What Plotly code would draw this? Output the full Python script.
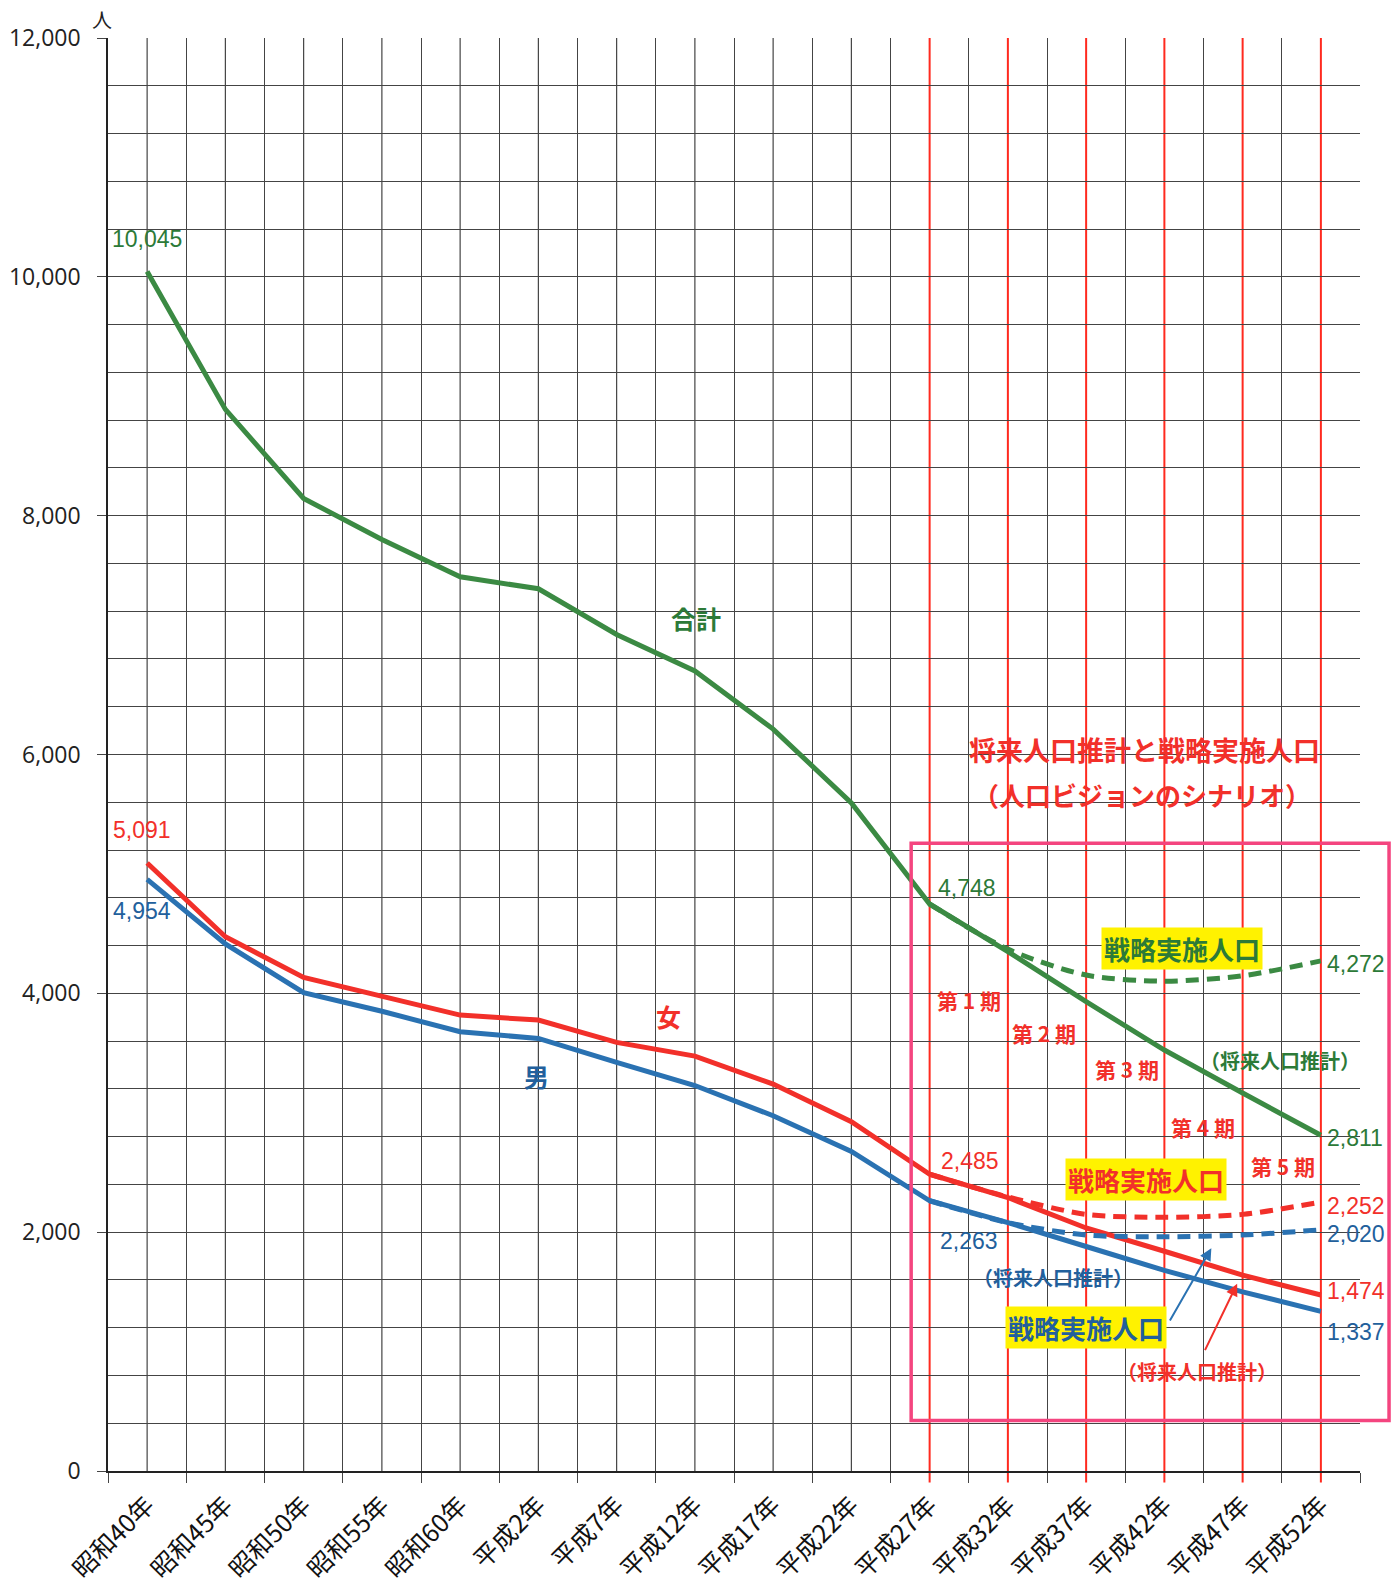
import plotly.graph_objects as go

# ---------------- data ----------------
categories = ["昭和40年", "昭和45年", "昭和50年", "昭和55年", "昭和60年", "平成2年", "平成7年",
              "平成12年", "平成17年", "平成22年", "平成27年", "平成32年", "平成37年", "平成42年",
              "平成47年", "平成52年"]
total = [10045, 8890, 8144, 7800, 7488, 7388, 7005, 6700, 6213, 5594, 4748, 4350, 3930, 3525, 3165, 2811]
female = [5091, 4474, 4133, 3980, 3818, 3776, 3589, 3474, 3240, 2925, 2485, 2290, 2035, 1840, 1640, 1474]
male = [4954, 4414, 4005, 3850, 3678, 3622, 3422, 3228, 2975, 2676, 2263, 2080, 1880, 1680, 1500, 1337]

strategy_categories = ["平成27年", "平成32年", "平成37年", "平成42年", "平成47年", "平成52年"]
total_strategy = [4748, 4370, 4153, 4102, 4147, 4272]
female_strategy = [2485, 2295, 2149, 2124, 2149, 2252]
male_strategy = [2263, 2080, 1976, 1962, 1976, 2020]

future_categories = ["平成27年", "平成32年", "平成37年", "平成42年", "平成47年", "平成52年"]
y_ticks = [0, 2000, 4000, 6000, 8000, 10000, 12000]

# ---------------- styles ----------------
GREEN = "#3b8a43"
GREEN_T = "#2c7a38"
RED = "#f2302a"
BLUE = "#2a72b2"
BLUE_T = "#22609c"
PINK = "#f4457f"
YELLOW = "#fff200"
GRID = "#444444"
CJK = "Noto Sans CJK JP"
NUM = "Liberation Sans Narrow, Liberation Sans, Arial"

fig = go.Figure()

for name, vals, col in [("合計", total, GREEN), ("女", female, RED), ("男", male, BLUE)]:
    fig.add_trace(go.Scatter(x=categories, y=vals, mode="lines", name=name,
                             line=dict(color=col, width=5)))

for name, vals, col in [("合計（戦略）", total_strategy, GREEN), ("女（戦略）", female_strategy, RED),
                        ("男（戦略）", male_strategy, BLUE)]:
    fig.add_trace(go.Scatter(x=strategy_categories, y=vals, mode="lines", name=name,
                             line=dict(color=col, width=5, dash="13px,8px", shape="spline",
                                       smoothing=0.8)))

shapes = []
# centre grid lines (half-category grid)
for c in categories:
    if c in future_categories:
        continue
    shapes.append(dict(type="line", xref="x", yref="paper", x0=c, x1=c, y0=0, y1=1,
                       line=dict(color=GRID, width=1.2), layer="below"))
# red period lines
for c in future_categories:
    shapes.append(dict(type="line", xref="x", yref="paper", x0=c, x1=c, y0=-0.008, y1=1,
                       line=dict(color="#ff2a1f", width=2), layer="below"))
# pink frame
shapes.append(dict(type="rect", xref="paper", yref="paper", x0=0.6415, x1=1.0232,
                   y0=0.0353, y1=0.438, line=dict(color=PINK, width=3.5)))

ann = []


def t(x, y, text, color, size, family=NUM, bg=None, **kw):
    d = dict(x=x, y=y, xref="x", yref="y", text=text, showarrow=False,
             font=dict(color=color, size=size, family=family))
    if bg:
        d.update(bgcolor=bg, borderpad=2)
    d.update(kw)
    ann.append(d)


# value labels
t(0.0, 10316, "10,045", GREEN_T, 23)
t(-0.07, 5366, "5,091", RED, 23)
t(-0.07, 4688, "4,954", BLUE_T, 23)
t(10.48, 4883, "4,748", GREEN_T, 23)
t(15.45, 4247, "4,272", GREEN_T, 23)
t(15.43, 2789, "2,811", GREEN_T, 23)
t(10.51, 2594, "2,485", RED, 23)
t(10.50, 1924, "2,263", BLUE_T, 23)
t(15.45, 2221, "2,252", RED, 23)
t(15.45, 1984, "2,020", BLUE_T, 23)
t(15.45, 1509, "1,474", RED, 23)
t(15.45, 1161, "1,337", BLUE_T, 23)

# series names
t(7.02, 7146, "<b>合計</b>", GREEN_T, 25, CJK)
t(6.66, 3814, "<b>女</b>", RED, 25, CJK)
t(4.98, 3306, "<b>男</b>", BLUE_T, 25, CJK)

# title inside chart
t(12.74, 6044, "<b>将来人口推計と戦略実施人口</b>", RED, 27, CJK)
t(12.71, 5662, "<b>（人口ビジョンのシナリオ）</b>", RED, 26, CJK)

# periods
t(10.50, 3942, "<b>第 1 期</b>", RED, 21, CJK)
t(11.46, 3670, "<b>第 2 期</b>", RED, 21, CJK)
t(12.52, 3366, "<b>第 3 期</b>", RED, 21, CJK)
t(13.49, 2882, "<b>第 4 期</b>", RED, 21, CJK)
t(14.52, 2552, "<b>第 5 期</b>", RED, 21, CJK)

# scenario labels
t(13.23, 4374, "<b>戦略実施人口</b>", GREEN_T, 26, CJK, bg=YELLOW)
t(14.48, 3441, "<b>（将来人口推計）</b>", GREEN_T, 20, CJK)
t(12.76, 2441, "<b>戦略実施人口</b>", RED, 26, CJK, bg=YELLOW)
t(11.58, 1619, "<b>（将来人口推計）</b>", BLUE_T, 20, CJK)
t(12.00, 1204, "<b>戦略実施人口</b>", BLUE_T, 26, CJK, bg=YELLOW)
t(13.42, 831, "<b>（将来人口推計）</b>", RED, 20, CJK)

# arrows
ann.append(dict(x=13.60, y=1865, ax=13.06, ay=1247, xref="x", yref="y", axref="x", ayref="y",
                text="", showarrow=True, arrowhead=2, arrowsize=1.2, arrowwidth=2,
                arrowcolor=BLUE))
ann.append(dict(x=13.93, y=1568, ax=13.51, ay=1000, xref="x", yref="y", axref="x", ayref="y",
                text="", showarrow=True, arrowhead=2, arrowsize=1.2, arrowwidth=2,
                arrowcolor=RED))

# unit label
ann.append(dict(xref="paper", yref="paper", x=0, y=1, xanchor="center", yanchor="bottom",
                xshift=-6, yshift=2, text="人", showarrow=False,
                font=dict(size=20, color="#222", family=CJK)))

fig.update_layout(
    width=1398, height=1587,
    margin=dict(l=108, r=38, t=38, b=116),
    paper_bgcolor="white", plot_bgcolor="white",
    showlegend=False,
    shapes=shapes, annotations=ann,
    xaxis=dict(type="category", categoryorder="array", categoryarray=categories,
               range=[-0.5, 15.5], tickson="boundaries", ticks="outside", ticklen=10,
               tickcolor=GRID, tickwidth=1.2, showgrid=True, gridcolor=GRID, gridwidth=1.2,
               showline=True, linecolor="#222", linewidth=1.5, tickangle=-45,
               ticklabelstandoff=8, automargin=False,
               tickfont=dict(family=CJK, size=25, color="#111")),
    yaxis=dict(range=[0, 12000], tickvals=y_ticks, tickformat=",", ticks="outside",
               ticklen=9, tickcolor=GRID, showgrid=True, gridcolor=GRID, gridwidth=1.2,
               minor=dict(dtick=400, showgrid=True, gridcolor=GRID, gridwidth=1.2),
               showline=True, linecolor="#222", linewidth=1.5, zeroline=False,
               ticklabelstandoff=12, automargin=False,
               tickfont=dict(family="Open Sans", size=23, color="#222")),
)

fig.write_html("out.html", config={"displayModeBar": False},
               post_script="document.body.style.margin='0';")
